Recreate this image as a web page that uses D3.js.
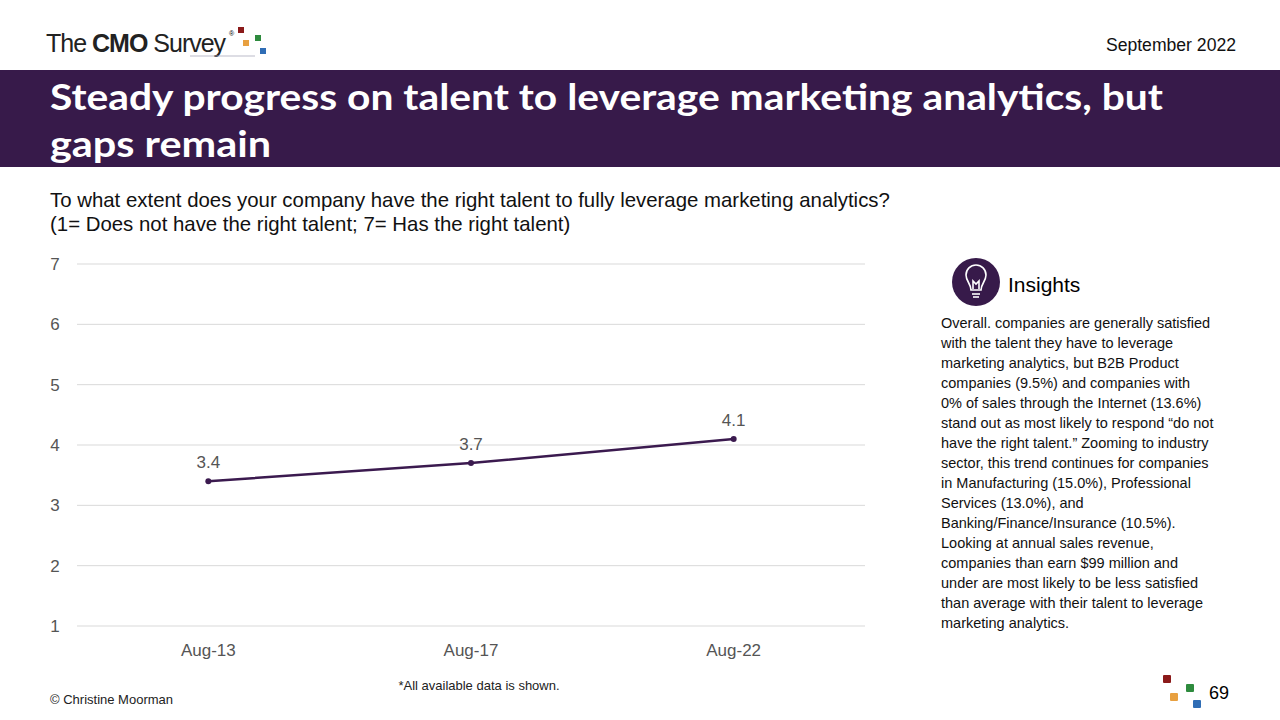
<!DOCTYPE html><html><head><meta charset="utf-8"><script src="https://cdn.jsdelivr.net/npm/d3@7"></script>
<style>body{margin:0;background:#fff}svg{display:block}</style></head><body><svg id="c" width="1280" height="720"></svg>
<script>
const categories=["Aug-13","Aug-17","Aug-22"];
const values=[3.4,3.7,4.1];
const yTicks=[1,2,3,4,5,6,7];
const insight=["Overall. companies are generally satisfied","with the talent they have to leverage","marketing analytics, but B2B Product","companies (9.5%) and companies with","0% of sales through the Internet (13.6%)","stand out as most likely to respond “do not","have the right talent.” Zooming to industry","sector, this trend continues for companies","in Manufacturing (15.0%), Professional","Services (13.0%), and","Banking/Finance/Insurance (10.5%).","Looking at annual sales revenue,","companies than earn $99 million and","under are most likely to be less satisfied","than average with their talent to leverage","marketing analytics."];
const svg=d3.select("#c");const F="Liberation Sans, Arial, sans-serif";
const lg=svg.append("text").attr("x",46).attr("y",52).attr("font-family",F).attr("font-size",25).attr("fill","#222").attr("letter-spacing",-1);
lg.append("tspan").text("The ");lg.append("tspan").attr("font-weight","bold").text("CMO");lg.append("tspan").text(" Survey");
svg.append("text").attr("x",229).attr("y",36).attr("font-size",7).attr("font-family",F).text("®");
svg.append("line").attr("x1",190).attr("x2",255).attr("y1",56).attr("y2",56).attr("stroke","#aab").attr("stroke-width",0.8);
[[238,27,"#8b1a1a"],[243,40,"#e8a040"],[255,35,"#2e8b3e"],[260,48,"#2f6db5"]].forEach(d=>svg.append("rect").attr("x",d[0]).attr("y",d[1]).attr("width",6).attr("height",6).attr("fill",d[2]));
svg.append("text").attr("x",1236).attr("y",51).attr("text-anchor","end").attr("font-family",F).attr("font-size",17.6).attr("fill","#111").text("September 2022");
svg.append("rect").attr("x",0).attr("y",70).attr("width",1280).attr("height",97).attr("fill","#371a4a");
[["Steady progress on talent to leverage marketing analytics, but",1113],["gaps remain",221]].forEach((t,i)=>svg.append("text").attr("x",50).attr("y",110+i*47).attr("fill","#fff").attr("font-family","Lato, sans-serif").attr("font-weight","bold").attr("font-size",36).attr("textLength",t[1]).attr("lengthAdjust","spacingAndGlyphs").text(t[0]));
["To what extent does your company have the right talent to fully leverage marketing analytics?","(1= Does not have the right talent; 7= Has the right talent)"].forEach((t,i)=>svg.append("text").attr("x",50).attr("y",207+i*24).attr("font-family",F).attr("font-size",20.4).attr("fill","#111").text(t));
const x=d3.scaleBand().domain(categories).range([77,865]);
const y=d3.scaleLinear().domain([1,7]).range([626,264]);
const g=svg.append("g");
yTicks.forEach(t=>{g.append("line").attr("x1",77).attr("x2",865).attr("y1",y(t)).attr("y2",y(t)).attr("stroke","#d9d9d9");
g.append("text").attr("x",55).attr("y",y(t)+6).attr("text-anchor","middle").attr("font-family",F).attr("font-size",17).attr("fill","#555").text(t);});
categories.forEach(c=>g.append("text").attr("x",x(c)+x.bandwidth()/2).attr("y",656).attr("text-anchor","middle").attr("font-family",F).attr("font-size",17).attr("fill","#555").text(c));
const cx=c=>x(c)+x.bandwidth()/2;
g.append("path").datum(values).attr("fill","none").attr("stroke","#3b1a4f").attr("stroke-width",2.5).attr("d",d3.line().x((d,i)=>cx(categories[i])).y(d=>y(d)));
values.forEach((v,i)=>{g.append("circle").attr("cx",cx(categories[i])).attr("cy",y(v)).attr("r",3).attr("fill","#3b1a4f");
g.append("text").attr("x",cx(categories[i])).attr("y",y(v)-13).attr("text-anchor","middle").attr("font-family",F).attr("font-size",17).attr("fill","#555").text(v.toFixed(1));});
svg.append("text").attr("x",479).attr("y",690).attr("text-anchor","middle").attr("font-family",F).attr("font-size",13).attr("fill","#222").text("*All available data is shown.");
svg.append("text").attr("x",50).attr("y",704).attr("font-family",F).attr("font-size",13).attr("fill","#222").text("© Christine Moorman");
svg.append("circle").attr("cx",976).attr("cy",282).attr("r",24).attr("fill","#371a4a");
const b=svg.append("g").attr("fill","none").attr("stroke","#fff").attr("stroke-width",1.6);
b.append("path").attr("d","M971,290 C971,284 966,281 966,275 A10,10 0 0 1 986,275 C986,281 981,284 981,290 Z");
b.append("line").attr("x1",972).attr("x2",980).attr("y1",294).attr("y2",294);
b.append("line").attr("x1",973).attr("x2",979).attr("y1",297).attr("y2",297);
b.append("path").attr("d","M973,289 L973,281 L976,284 L979,281 L979,289");
svg.append("text").attr("x",1008).attr("y",292).attr("font-family",F).attr("font-size",21).attr("fill","#000").text("Insights");
insight.forEach((t,i)=>svg.append("text").attr("x",941).attr("y",328+i*20).attr("font-family",F).attr("font-size",14.5).attr("fill","#111").text(t));
[[1163,675,"#8b1a1a"],[1170,693,"#e8a040"],[1186,684,"#2e8b3e"],[1193,700,"#2f6db5"]].forEach(d=>svg.append("rect").attr("x",d[0]).attr("y",d[1]).attr("width",8).attr("height",8).attr("rx",1).attr("fill",d[2]));
svg.append("text").attr("x",1209).attr("y",699).attr("font-family",F).attr("font-size",18).attr("fill","#000").text("69");
</script></body></html>
